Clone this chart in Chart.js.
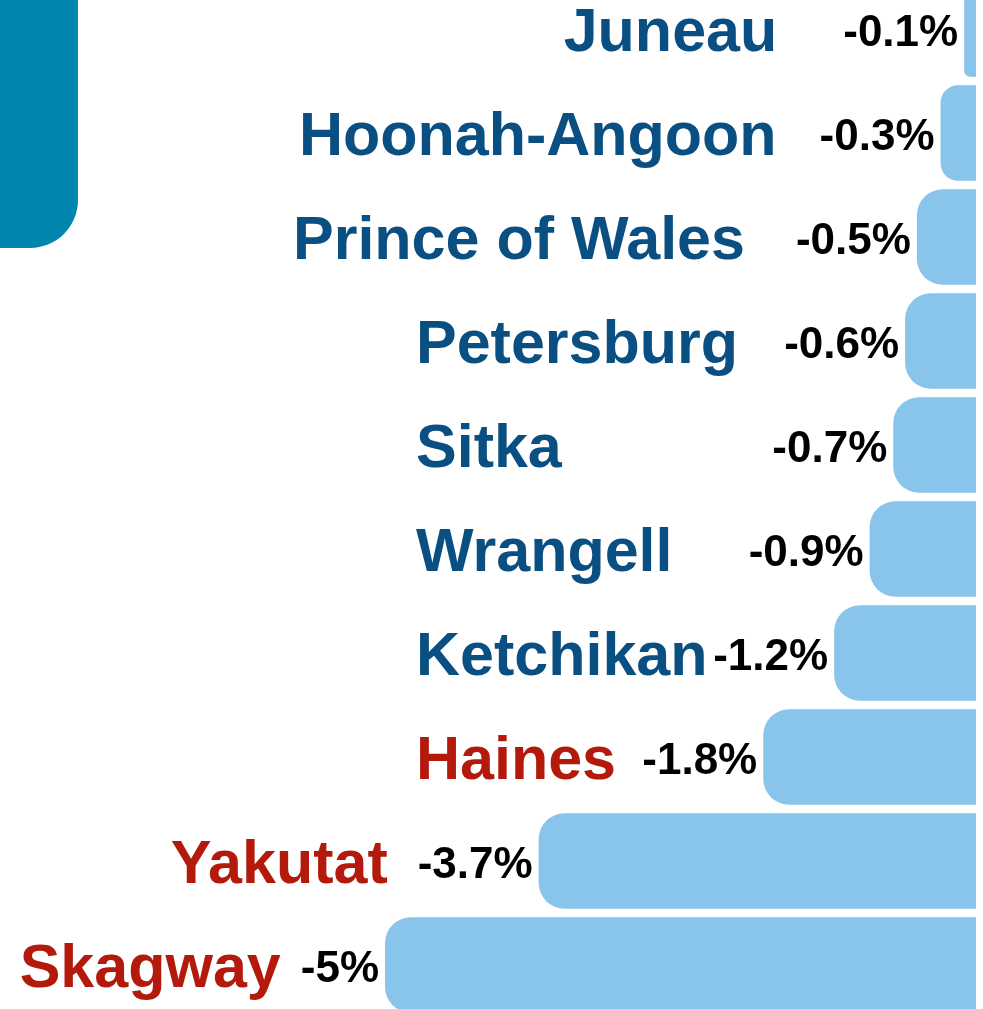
<!DOCTYPE html>
<html>
<head>
<meta charset="utf-8">
<script src="https://cdn.jsdelivr.net/npm/chart.js@4"></script>
<style>
  html, body { margin: 0; padding: 0; background: #fff; }
  #wrap { position: relative; width: 983px; height: 1009px; overflow: hidden; }
  #tab { position: absolute; left: -60px; top: -60px; width: 138px; height: 308px; border-radius: 48px; background: #0086ae; }
  #chart { position: absolute; left: 0; top: -23px; }
</style>
</head>
<body>
<div id="wrap">
  <div id="tab"></div>
  <canvas id="chart" width="983" height="1040"></canvas>
</div>
<script>
// regiões e variação (%)
const regions = ['Juneau', 'Hoonah-Angoon', 'Prince of Wales', 'Petersburg', 'Sitka', 'Wrangell', 'Ketchikan', 'Haines', 'Yakutat', 'Skagway'];
const changes = [-0.1, -0.3, -0.5, -0.6, -0.7, -0.9, -1.2, -1.8, -3.7, -5];
const changeLabels = ['-0.1%', '-0.3%', '-0.5%', '-0.6%', '-0.7%', '-0.9%', '-1.2%', '-1.8%', '-3.7%', '-5%'];
const highlighted = ['Haines', 'Yakutat', 'Skagway'];

// onde fica o nome: 'col' = coluna fixa, 'value' = encostado ao rótulo do valor
const nameSide = ['value', 'value', 'value', 'col', 'col', 'col', 'col', 'col', 'value', 'value'];
const nameGap = [66, 43, 51, 0, 0, 0, 0, 0, 30, 20];
const NAME_COL = 416;

const BLUE = '#0a4f82', RED = '#b31a0b', BAR = '#89c4ea';

const labelsPlugin = {
    id: 'labels',
    afterDatasetsDraw(chart) {
        const ctx = chart.ctx;
        const meta = chart.getDatasetMeta(0);
        ctx.save();
        meta.data.forEach((bar, i) => {
            // valor
            ctx.font = 'bold 44px "Liberation Sans", Arial, sans-serif';
            ctx.fillStyle = '#000';
            ctx.textAlign = 'right';
            ctx.textBaseline = 'alphabetic';
            const vRight = bar.x - 6;
            ctx.fillText(changeLabels[i], vRight, bar.y + 17);
            const vLeft = vRight - ctx.measureText(changeLabels[i]).width;

            // nome
            ctx.font = 'bold 61px "Liberation Sans", Arial, sans-serif';
            ctx.fillStyle = highlighted.includes(regions[i]) ? RED : BLUE;
            if (nameSide[i] === 'col') {
                ctx.textAlign = 'left';
                ctx.fillText(regions[i], NAME_COL, bar.y + 22);
            } else {
                ctx.textAlign = 'right';
                ctx.fillText(regions[i], vLeft - nameGap[i], bar.y + 22);
            }
        });
        ctx.restore();
    }
};

new Chart(document.getElementById('chart'), {
    type: 'bar',
    data: {
        labels: regions,
        datasets: [{ data: changes, backgroundColor: BAR, borderWidth: 0, borderRadius: 26, borderSkipped: 'start', barPercentage: 0.92, categoryPercentage: 1 }]
    },
    options: {
        indexAxis: 'y',
        responsive: false,
        animation: false,
        layout: { padding: { left: 385, right: 7, top: 0, bottom: 0 } },
        scales: {
            x: { display: false, min: -5, max: 0 },
            y: { display: false }
        },
        plugins: { legend: { display: false }, tooltip: { enabled: false } }
    },
    plugins: [labelsPlugin]
});
</script>
</body>
</html>
